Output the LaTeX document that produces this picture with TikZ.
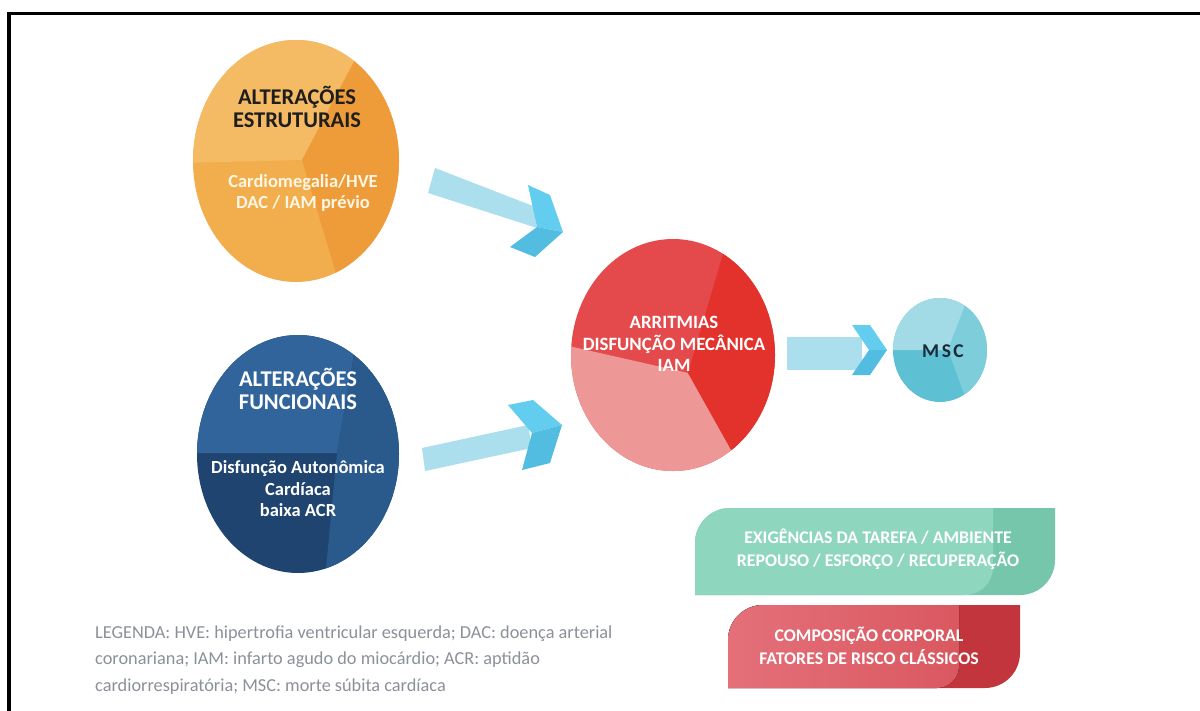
\documentclass[tikz,border=0pt]{standalone}
\usepackage{fontspec}
\setmainfont{Carlito}
\usetikzlibrary{shapes.geometric}
\definecolor{orA}{HTML}{F5BA64}
\definecolor{orB}{HTML}{F2AD4C}
\definecolor{orC}{HTML}{EE9C3A}
\definecolor{blA}{HTML}{31649A}
\definecolor{blB}{HTML}{2A5A8C}
\definecolor{blC}{HTML}{1F4470}
\definecolor{rdA}{HTML}{E44A4B}
\definecolor{rdB}{HTML}{EE9797}
\definecolor{rdC}{HTML}{E3322C}
\definecolor{cyA}{HTML}{A2DBE6}
\definecolor{cyB}{HTML}{5EC0D3}
\definecolor{cyC}{HTML}{7ECDDB}
\definecolor{arBody}{HTML}{ABDFEE}
\definecolor{arUp}{HTML}{62CDEE}
\definecolor{arLo}{HTML}{52BDE0}
\definecolor{gnA}{HTML}{8FD6BF}
\definecolor{gnB}{HTML}{76C6AC}
\definecolor{pkA}{HTML}{E4707A}
\definecolor{pkB}{HTML}{DA5860}
\definecolor{pkC}{HTML}{C3353C}
\definecolor{legGrey}{HTML}{8C9099}
\definecolor{cream}{HTML}{FFF6E4}
\definecolor{darkTxt}{HTML}{1E1E1E}
\definecolor{navyTxt}{HTML}{1A2A3A}
\begin{document}
\begin{tikzpicture}[x=1pt,y=-1pt,
  blob/.style={ellipse,inner sep=0pt,draw=none},
  bigtitle/.style={font=\bfseries\fontsize{22.5}{22.5}\selectfont,align=center},
  subtxt/.style={font=\bfseries\fontsize{18.5}{21.5}\selectfont,align=center},
  redtxt/.style={font=\bfseries\fontsize{18.8}{21.5}\selectfont,align=center,text=white},
  boxtxt/.style={font=\bfseries\fontsize{17.8}{23}\selectfont,align=center,text=white},
  legtxt/.style={font=\fontsize{18.3}{26.5}\selectfont,align=left,text=legGrey,inner sep=0pt},
  abody/.style={fill=arBody},
  aup/.style={fill=arUp},
  alo/.style={fill=arLo}]
\useasboundingbox (0,0) rectangle (1200,710);
\fill[white] (0,0) rectangle (1200,710);
% frame
\draw[line width=3.6pt] (9.2,712) -- (9.2,13.3) -- (1202,13.3);

% ---- orange ellipse
\node[blob,minimum width=206pt,minimum height=242pt] (orange) at (296,161) {};
\begin{scope}
\clip (296,161) ellipse [x radius=103, y radius=121];
\fill[orB] (180,30) rectangle (410,290);
\fill[orA] (302,160) -- (376,20) -- (180,20) -- (180,163) -- cycle;
\fill[orC] (302,160) -- (376,20) -- (420,20) -- (420,300) -- (344,300) -- cycle;
\end{scope}
\node[bigtitle,text=darkTxt] (otitle) at (297,107) {ALTERAÇÕES\\ESTRUTURAIS};
\node[subtxt,text=cream] (osub) at (303,193) {Cardiomegalia/HVE\\DAC / IAM prévio};

% ---- blue ellipse
\node[blob,minimum width=202pt,minimum height=238pt] (blue) at (298,454) {};
\begin{scope}
\clip (298,454) ellipse [x radius=101, y radius=119];
\fill[blC] (190,320) rectangle (410,590);
\fill[blA] (337,453) -- (360,320) -- (190,320) -- (190,453) -- cycle;
\fill[blB] (337,453) -- (360,320) -- (410,320) -- (410,590) -- (324,590) -- cycle;
\end{scope}
\node[bigtitle,text=white] (btitle) at (298,389) {ALTERAÇÕES\\FUNCIONAIS};
\node[subtxt,text=white] (bsub) at (298,489) {Disfunção Autonômica\\Cardíaca\\baixa ACR};

% ---- red ellipse
\node[blob,minimum width=204pt,minimum height=232pt] (red) at (673,355) {};
\begin{scope}
\clip (673,355) ellipse [x radius=102, y radius=116];
\fill[rdA] (560,230) rectangle (790,480);
\fill[rdB] (688,373) -- (560,344) -- (560,480) -- (748,480) -- cycle;
\fill[rdC] (688,373) -- (730,230) -- (790,230) -- (790,480) -- (748,480) -- cycle;
\end{scope}
\node[redtxt] (rtext) at (674,344) {ARRITMIAS\\DISFUNÇÃO MECÂNICA\\IAM};

% ---- MSC ellipse
\node[blob,minimum width=94pt,minimum height=104pt] (msc) at (940,350) {};
\begin{scope}
\clip (940,350) ellipse [x radius=47, y radius=52];
\fill[cyB] (890,290) rectangle (1000,410);
\fill[cyA] (948,350) -- (971,290) -- (890,290) -- (890,350) -- cycle;
\fill[cyC] (948,350) -- (971,290) -- (1000,290) -- (1000,410) -- (970,410) -- cycle;
\end{scope}
\node[font=\bfseries\fontsize{19.5}{19.5}\selectfont,text=navyTxt] (msctxt) at (943,351) {M\hspace{2.5pt}S\hspace{2.5pt}C};

% ---- block arrows
% top arrow
\fill[abody] (435,168) -- (533,206) -- (537,228) -- (428,193) -- cycle;
\fill[aup] (528,185) -- (550,195) -- (563,232) -- (537,227) -- cycle;
\fill[alo] (537,227) -- (563,232) -- (535,257) -- (510,247) -- cycle;
% bottom arrow
\fill[abody] (422,448) -- (528,425) -- (532,448) -- (425,471) -- cycle;
\fill[aup] (508,405) -- (533,400) -- (562,425) -- (532,433) -- cycle;
\fill[alo] (532,433) -- (562,425) -- (550,463) -- (522,470) -- cycle;
% right arrow
\fill[abody] (787,337) rectangle (862,370);
\fill[aup] (852,325) -- (870,325) -- (887,350) -- (869,350) -- cycle;
\fill[alo] (869,350) -- (887,350) -- (870,375) -- (852,375) -- cycle;

% ---- green box
\fill[gnB] (695,595) -- (695,543) arc[start angle=180,end angle=270,radius=35]
  -- (1055,508) -- (1055,560) arc[start angle=0,end angle=90,radius=35] -- cycle;
\fill[gnA] (695,595) -- (695,543) arc[start angle=180,end angle=270,radius=35]
  -- (993,508) -- (993,567) arc[start angle=0,end angle=90,radius=28] -- cycle;
\node[boxtxt] (gtext) at (878,549) {EXIGÊNCIAS DA TAREFA / AMBIENTE\\REPOUSO / ESFORÇO / RECUPERAÇÃO};

% ---- red box
\fill[pkC] (728,688) -- (728,640) arc[start angle=180,end angle=270,radius=35]
  -- (1020,605) -- (1020,653) arc[start angle=0,end angle=90,radius=35] -- cycle;
\fill[left color=pkA,right color=pkB] (728,688) -- (728,640) arc[start angle=180,end angle=270,radius=35]
  -- (959,605) -- (959,666) arc[start angle=0,end angle=90,radius=22] -- cycle;
\node[boxtxt] (ptext) at (869,646) {COMPOSIÇÃO CORPORAL\\FATORES DE RISCO CLÁSSICOS};

% ---- legend
\node[legtxt,anchor=west] (legend) at (95,660) {LEGENDA: HVE: hipertrofia ventricular esquerda; DAC: doença arterial\\coronariana; IAM: infarto agudo do miocárdio; ACR: aptidão\\cardiorrespiratória; MSC: morte súbita cardíaca};
\end{tikzpicture}
\end{document}
